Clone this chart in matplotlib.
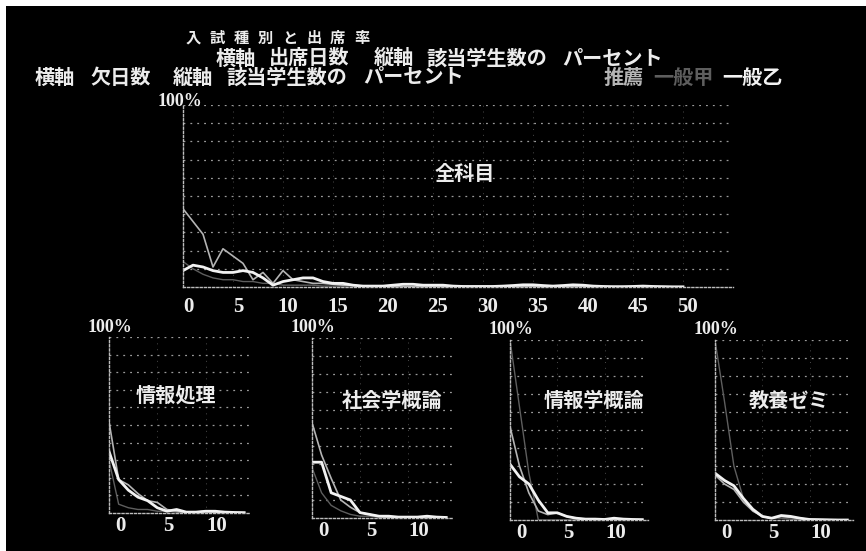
import matplotlib
matplotlib.use("Agg")
import matplotlib.pyplot as plt
import matplotlib.transforms as mtransforms
from matplotlib.patches import Rectangle
import numpy as np

plt.rcParams['font.family'] = ['Noto Sans CJK JP', 'DejaVu Sans']

# ---- data (percent of students vs. days) ----
title_chars = ["入", "試", "種", "別", "と", "出", "席", "率"]
caption1 = ["横軸", "出席日数", "縦軸", "該当学生数の", "パーセント"]
caption2 = ["横軸", "欠日数", "縦軸", "該当学生数の", "パーセント"]
groups = ["推薦", "一般甲", "一般乙"]

main_name = "全科目"
main_days = np.arange(0, 51)
main_suisen = [43, 36, 29, 11, 21, 17, 13, 4, 8, 2, 9, 4, 3, 2, 2, 1.5, 1, 1, 0.5, 0.5,
               0.3, 0.3, 0.3, 0.2, 0.2, 0.3, 0.3, 0.2, 0.2, 0.1, 0.1, 0.2, 0.2, 0.1, 0.1,
               0.1, 0.2, 0.1, 0.1, 0.1, 0.1, 0.1, 0.1, 0.1, 0.1, 0.1, 0.1, 0.1, 0.1, 0.1, 0.1]
main_kou = [14, 10, 7, 5, 4, 4, 3, 3, 2, 2, 1, 1, 1, 1, 0.5, 0.5, 0.5, 0.5, 0.3, 0.3,
            0.3, 0.3, 0.3, 0.2, 0.2, 0.2, 0.2, 0.2, 0.1, 0.1, 0.1, 0.1, 0.1, 0.1, 0.1,
            0.1, 0.1, 0.1, 0.1, 0.1, 0.1, 0.1, 0.1, 0.1, 0.1, 0.1, 0.1, 0.1, 0.1, 0.1, 0.1]
main_otsu = [9, 12, 11, 9, 8, 8, 9, 8, 5, 1, 3, 4, 5, 5, 3, 2, 2, 1, 0.5, 0.5,
             0.5, 1, 1.5, 1.5, 1, 1, 1, 0.5, 0.3, 0.3, 0.3, 0.3, 0.5, 0.8, 1.2, 1.2,
             0.8, 0.5, 0.8, 1.2, 1, 0.5, 0.3, 0.2, 0.2, 0.3, 0.5, 0.3, 0.2, 0.1, 0.1]

sub_names = ["情報処理", "社会学概論", "情報学概論", "教養ゼミ"]
sub_days = np.arange(0, 15)
sub_suisen = [
    [52, 19, 16, 11, 7, 6, 2, 1, 0.5, 0.5, 1, 0.5, 0.3, 0.2, 0.2],
    [53, 35, 22, 10, 6, 3, 2, 1, 0.5, 0.5, 0.3, 0.5, 0.3, 0.2, 0.2],
    [52, 30, 15, 5, 3, 4, 2, 1, 0.5, 0.5, 0.3, 0.5, 0.3, 0.2, 0.2],
    [25, 20, 17, 10, 5, 2, 1, 2, 1.5, 1, 0.3, 0.2, 0.1, 0, 0],
]
sub_kou = [
    [30, 5, 3, 2, 2, 1, 1, 0.5, 0, 0, 0.5, 0, 0, 0, 0],
    [28, 14, 7, 4, 2, 1, 1, 0.5, 0.5, 0, 0, 0, 0, 0, 0],
    [100, 63, 26, 0, 0, 0, 0, 0, 0, 0, 0, 0, 0, 0, 0],
    [100, 66, 30, 12, 5, 2, 1, 1, 0.5, 0, 0, 0, 0, 0, 0],
]
sub_otsu = [
    [35, 19, 13, 9, 7, 3, 1, 2, 0.5, 0.5, 1, 1, 0.5, 0.3, 0.2],
    [31, 31, 14, 12, 10, 3, 2, 1, 1, 0.5, 0.5, 0.5, 1, 0.5, 0.3],
    [31, 24, 20, 11, 4, 4, 2, 1, 0.5, 0.5, 0.3, 1, 0.5, 0.3, 0.2],
    [26, 22, 19, 12, 6, 2, 1, 2.5, 2, 1, 0.3, 0.2, 0.1, 0, 0],
]

# ---- style ----
W, H = 866, 551
col_suisen = "#b4b4b4"
col_kou = "#5e5e5e"
col_otsu = "#f2f2f2"
txt = "#ececec"
serif_bold = dict(family=["Liberation Serif", "Noto Sans CJK JP"], fontweight="bold")


def fig_rect(left, top, right, bottom):
    return [left / W, 1 - bottom / H, (right - left) / W, (bottom - top) / H]


def put(x, y, s, **kw):
    opts = dict(color=txt, fontsize=14.5, fontweight="bold", ha="left", va="center")
    opts.update(kw)
    fig.text(x / W, 1 - y / H, s, **opts)


def style_axes(ax, xmax, label_shift):
    ax.set_facecolor("none")
    ax.set_xlim(0, xmax)
    ax.set_ylim(0, 100)
    ax.set_yticks(np.arange(10, 101, 10))
    ax.set_yticklabels([])
    ax.tick_params(axis="y", length=0)
    ax.grid(axis="y", color="#9a9a9a", linestyle=(0, (1.5, 4)), linewidth=0.9)
    ax.grid(axis="x", color="#4a4a4a", linestyle=(0, (1, 5)), linewidth=0.7)
    ax.tick_params(axis="x", length=0, colors=txt)
    for s in ["top", "right"]:
        ax.spines[s].set_visible(False)
    for s in ["left", "bottom"]:
        ax.spines[s].set_color("#bdbdbd")
        ax.spines[s].set_linestyle((0, (1.5, 1.5)))
        ax.spines[s].set_linewidth(1.0)
    off = mtransforms.ScaledTranslation(label_shift / 100, 0, ax.figure.dpi_scale_trans)
    for lab in ax.get_xticklabels():
        lab.set_transform(lab.get_transform() + off)
        lab.set_fontfamily("Liberation Serif")
        lab.set_fontweight("bold")


fig = plt.figure(figsize=(W / 100, H / 100), dpi=100, facecolor="white")
fig.add_artist(Rectangle((6 / W, 0), 1, 1 - 6 / H, transform=fig.transFigure,
                         facecolor="black", edgecolor="none", zorder=-10))

# titles
for i, ch in enumerate(title_chars):
    put(186 + i * 24, 38, ch, fontsize=11)
for s, xpos in zip(caption1, [216, 269, 374, 426, 562]):
    put(xpos, 58, s)
for s, xpos in zip(caption2, [35, 90, 173, 226, 363]):
    put(xpos, 77, s)
for g, xpos, c in zip(groups, [604, 653, 722], [col_suisen, col_kou, col_otsu]):
    put(xpos, 77, g, color=c)

# main chart
ax = fig.add_axes(fig_rect(183, 105, 733, 287))
ax.plot(main_days, main_kou, color=col_kou, lw=1.0)
ax.plot(main_days, main_suisen, color=col_suisen, lw=1.2)
ax.plot(main_days, main_otsu, color=col_otsu, lw=2.0)
ax.set_xticks(np.arange(0, 51, 5))
ax.tick_params(axis="x", labelsize=15, pad=7)
style_axes(ax, 55, 5)
put(180, 101, "100%", fontsize=13, ha="center", **serif_bold)
put(465, 173, main_name, ha="center")

# sub charts
sub_boxes = [(109, 337, 250, 513), (312, 338, 452, 518),
             (510, 340, 648, 520), (715, 340, 853, 520)]
sub_label_x = [176, 392, 594, 789]
sub_label_y = [395, 400, 400, 400]
for i, name in enumerate(sub_names):
    l, t, r, b = sub_boxes[i]
    a = fig.add_axes(fig_rect(l, t, r, b))
    a.plot(sub_days, sub_kou[i], color=col_kou, lw=1.0)
    a.plot(sub_days, sub_suisen[i], color=col_suisen, lw=1.2)
    a.plot(sub_days, sub_otsu[i], color=col_otsu, lw=2.0)
    a.set_xticks([0, 5, 10])
    a.tick_params(axis="x", labelsize=15, pad=2)
    style_axes(a, 14.6, 11)
    put(l + 1, t - 10, "100%", fontsize=13, ha="center", **serif_bold)
    put(sub_label_x[i], sub_label_y[i], name, ha="center")

fig.savefig("out.png", dpi=100, facecolor="white")
